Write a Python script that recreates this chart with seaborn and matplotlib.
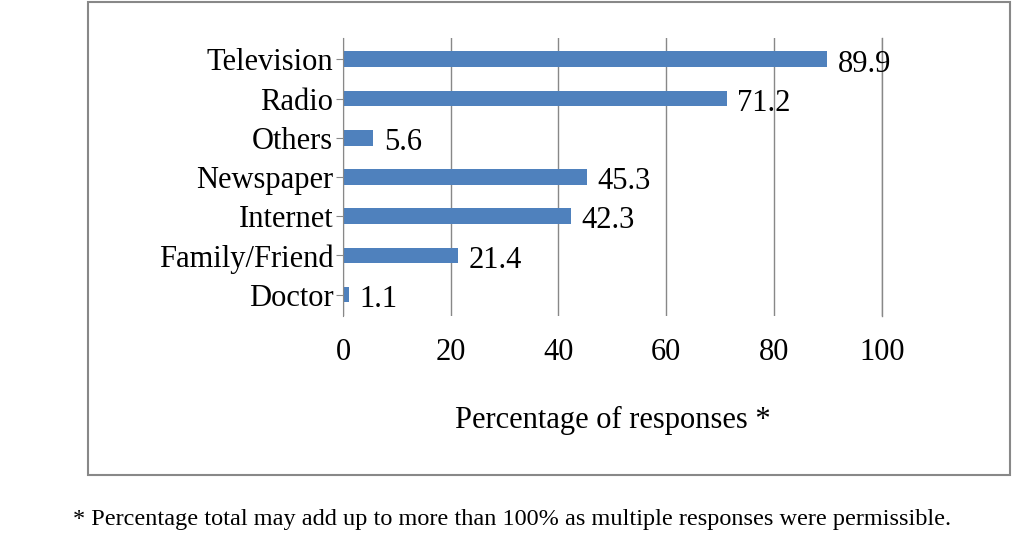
import matplotlib
matplotlib.use("Agg")
import matplotlib.pyplot as plt
import seaborn as sns
import pandas as pd
from matplotlib.patches import Rectangle

categories = ["Television", "Radio", "Others", "Newspaper", "Internet", "Family/Friend", "Doctor"]
values = [89.9, 71.2, 5.6, 45.3, 42.3, 21.4, 1.1]
xticks = [0, 20, 40, 60, 80, 100]

plt.rcParams["font.family"] = "Liberation Serif"
fig = plt.figure(figsize=(10.24, 5.47), dpi=100)
ax = fig.add_axes([0.335, 0.422, 0.526, 0.509])
df = pd.DataFrame({"cat": categories, "val": values})
sns.barplot(data=df, x="val", y="cat", color="#4F81BD", saturation=1, width=0.4, ax=ax, orient="h")
for i, v in enumerate(values):
    ax.text(v + 2.0, i + 0.12, f"{v}", va="center", ha="left", fontsize=22)
ax.set_xlim(0, 100)
ax.set_ylim(6.55, -0.55)
ax.set_xticks(xticks)
ax.set_xticklabels([str(t) for t in xticks], fontsize=22)
ax.tick_params(axis="y", labelsize=22, length=5, color="#888888", pad=2)
ax.tick_params(axis="x", length=0, pad=16)
ax.set_ylabel("")
ax.set_xlabel("Percentage of responses *", fontsize=22, labelpad=28)
ax.grid(axis="x", color="#888888", linewidth=1)
ax.axvline(100, color="#888888", linewidth=1, clip_on=False, zorder=0)
ax.set_axisbelow(True)
for s in ["top", "right", "bottom"]:
    ax.spines[s].set_visible(False)
ax.spines["left"].set_color("#888888")
fig.patches.append(Rectangle((88/1024, 1-475/547), 922/1024, 473/547, transform=fig.transFigure,
                             fill=False, edgecolor="#888888", linewidth=1.5))
fig.text(0.5, 1-520/547, "* Percentage total may add up to more than 100% as multiple responses were permissible.",
         ha="center", va="center", fontsize=17.5)
fig.savefig("out.png", dpi=100)
